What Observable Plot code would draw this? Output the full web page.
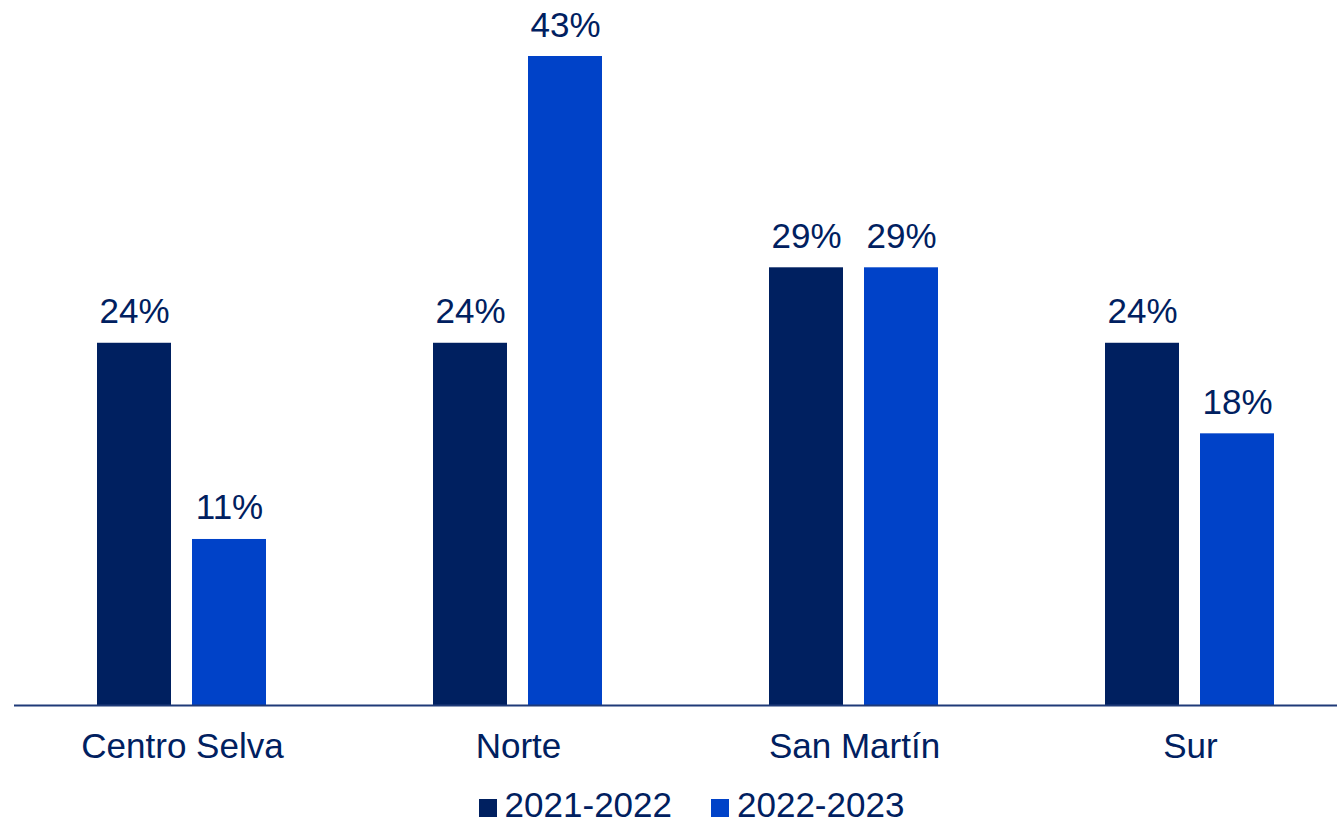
<!DOCTYPE html>
<html>
<head>
<meta charset="utf-8">
<script src="https://cdn.jsdelivr.net/npm/d3@7"></script>
<script src="https://cdn.jsdelivr.net/npm/@observablehq/plot@0.6"></script>
<style>
  html, body { margin: 0; padding: 0; background: #fff; overflow: hidden; }
  #chart svg { display: block; overflow: visible; }
  #legend { display: flex; justify-content: center; align-items: flex-end; margin-top: 17px; margin-left: 46px;
            font-family: "Liberation Sans", Arial, sans-serif; font-size: 35px; line-height: 35px; color: #002060; }
  #legend .item { display: flex; align-items: baseline; margin: 0 19.5px; }
  #legend .sw { display: inline-block; width: 18px; height: 18px; margin-right: 8px; }
</style>
</head>
<body>
<div id="chart"></div>
<div id="legend"></div>
<script>
const categories = ["Centro Selva", "Norte", "San Martín", "Sur"];
const series = ["2021-2022", "2022-2023"];
const values2021_2022 = [24, 24, 29, 24];
const values2022_2023 = [11, 43, 29, 18];
const seriesColors = ["#002060", "#0042C8"];

const rows = [];
categories.forEach((c, i) => {
  rows.push({category: c, series: series[0], value: values2021_2022[i]});
  rows.push({category: c, series: series[1], value: values2022_2023[i]});
});

const plot = Plot.plot({
  width: 1337,
  height: 770,
  marginTop: 56,
  marginBottom: 65,
  marginLeft: 13,
  marginRight: -22,
  style: {fontFamily: "'Liberation Sans', Arial, sans-serif", fontSize: "35px", color: "#002060", background: "#fff", overflow: "visible"},
  fx: {domain: categories, padding: 0, label: null, axis: "bottom", tickSize: 0, tickPadding: 28},
  x: {domain: series, paddingInner: 0.21875, paddingOuter: 0.861, axis: null},
  y: {domain: [0, 43], axis: null},
  color: {domain: series, range: seriesColors},
  marks: [
    Plot.barY(rows, {fx: "category", x: "series", y: "value", fill: "series"}),
    Plot.text(rows, {fx: "category", x: "series", y: "value", text: d => `${d.value}%`, lineAnchor: "bottom", dy: -20, fill: "#002060", fontSize: 35}),
    Plot.ruleY([0], {stroke: "#1F3A78", strokeWidth: 2})
  ]
});
document.getElementById("chart").appendChild(plot);

const color = plot.scale("color");
const legend = document.getElementById("legend");
color.domain.forEach((s, i) => {
  const item = document.createElement("span");
  item.className = "item";
  const sw = document.createElement("span");
  sw.className = "sw";
  sw.style.background = color.range[i];
  const t = document.createElement("span");
  t.textContent = s;
  item.appendChild(sw);
  item.appendChild(t);
  legend.appendChild(item);
});
</script>
</body>
</html>
